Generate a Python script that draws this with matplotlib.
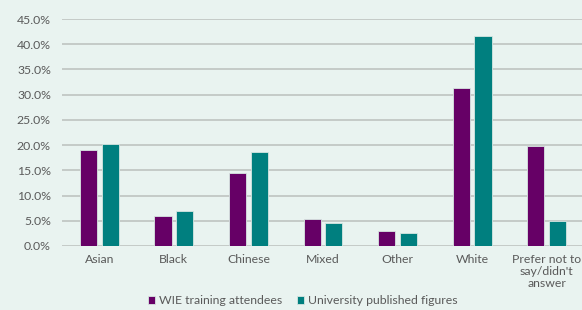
import numpy as np
import matplotlib.pyplot as plt
from matplotlib.ticker import PercentFormatter

# Data
categories = ["Asian", "Black", "Chinese", "Mixed", "Other", "White",
              "Prefer not to\nsay/didn't\nanswer"]
wie = [19.1, 6.0, 14.5, 5.3, 3.0, 31.4, 19.9]
university = [20.3, 7.0, 18.6, 4.5, 2.5, 41.7, 4.9]

bg = "#e9f3f0"
purple = "#660066"
teal = "#007f7f"
text_col = "#5a5a5a"

plt.rcParams["font.family"] = ["Lato", "DejaVu Sans"]

fig = plt.figure(figsize=(5.82, 3.10), dpi=100, facecolor=bg)
ax = fig.add_axes([62 / 582, 64 / 310, 522 / 582, 227 / 310], facecolor=bg)

x = np.arange(len(categories))
w = 0.23
ax.bar(x - w / 2 - 0.03, wie, w, color=purple, edgecolor="#d7e6e2", linewidth=0.6,
       label="WIE training attendees", zorder=3)
ax.bar(x + w / 2 + 0.03, university, w, color=teal, edgecolor="#d7e6e2", linewidth=0.6,
       label="University published figures", zorder=3)

ax.set_xlim(-0.5, len(categories) - 0.5)
ax.set_ylim(0, 45)
ax.set_yticks(np.arange(0, 46, 5))
ax.yaxis.set_major_formatter(PercentFormatter(decimals=1))
ax.grid(axis="y", color="#c4cac7", linewidth=1.4, zorder=0)
for s in ax.spines.values():
    s.set_visible(False)
ax.tick_params(axis="both", length=0, labelsize=8.8, labelcolor=text_col, pad=8)
ax.tick_params(axis="x", pad=6)
ax.set_xticks(x)
ax.set_xticklabels(categories, linespacing=1.1)

fig.legend(loc="center", bbox_to_anchor=(0.52, 0.03), ncol=2, frameon=False,
           fontsize=8.8, labelcolor=text_col, handlelength=0.6, handleheight=0.6,
           handletextpad=0.3, columnspacing=1.2)

fig.savefig("out.png", dpi=100, facecolor=bg)
